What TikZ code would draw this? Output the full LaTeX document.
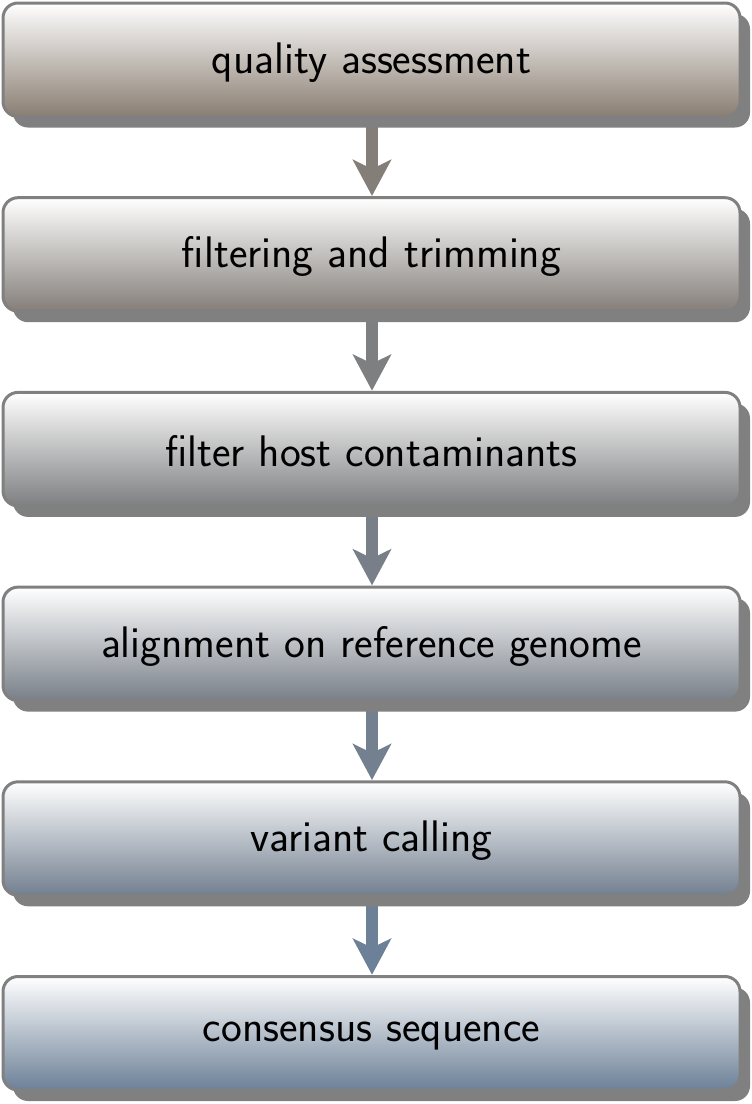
\documentclass[tikz,border=0pt]{standalone}
\usepackage{fontspec}
\usetikzlibrary{arrows.meta,shadows}
\definecolor{stageA}{RGB}{138,126,114}
\definecolor{stageB}{RGB}{108,128,151}
\definecolor{frame}{RGB}{128,128,128}
% bottom colours of the six stages, brown-grey to slate blue
\colorlet{boxcol0}{stageB!0!stageA}
\colorlet{boxcol1}{stageB!20!stageA}
\colorlet{boxcol2}{stageB!40!stageA}
\colorlet{boxcol3}{stageB!60!stageA}
\colorlet{boxcol4}{stageB!80!stageA}
\colorlet{boxcol5}{stageB!100!stageA}
% stage label, set a little below the box centre
\newcommand{\stagelabel}[1]{\raisebox{-2.5pt}[\height][\depth]{#1}}
\tikzset{
  stagebox/.style={rectangle, rounded corners=15pt, draw=frame, line width=3pt,
    minimum width=737pt, minimum height=113.5pt, top color=white, bottom color=#1,
    font=\sffamily\fontsize{44.2}{48}\selectfont, text=black,
    general shadow={fill=frame, shadow xshift=10pt, shadow yshift=-11pt}},
  flowarrow/.style={draw=#1, line width=12pt,
    -{Stealth[length=36pt, width=38pt, inset=9pt, fill=#1]}}
}
\begin{document}
\begin{tikzpicture}[x=1pt,y=1pt]
\useasboundingbox (0,0) rectangle (752,-1104);
% arrows first, so the shadows cover the shaft starts
\foreach \i in {0,...,4}{
  \pgfmathtruncatemacro{\j}{\i+1}
  \coordinate (a\i) at (372,{-(59.75+194.7*\i)-56});
  \coordinate (b\i) at (372,{-(59.75+194.7*\j)+58.5});
  \draw[flowarrow=boxcol\j] (a\i) -- (b\i);
}
\node[stagebox=boxcol0] (s0) at (371.5,-59.75) {\stagelabel{quality assessment}};
\node[stagebox=boxcol1] (s1) at (371.5,{-(59.75+194.7)}) {\stagelabel{filtering and trimming}};
\node[stagebox=boxcol2] (s2) at (371.5,{-(59.75+2*194.7)}) {\stagelabel{filter host contaminants}};
\node[stagebox=boxcol3] (s3) at (371.5,{-(59.75+3*194.7)}) {\stagelabel{alignment on reference genome}};
\node[stagebox=boxcol4] (s4) at (371.5,{-(59.75+4*194.7)}) {\stagelabel{variant calling}};
\node[stagebox=boxcol5] (s5) at (371.5,{-(59.75+5*194.7)}) {\stagelabel{consensus sequence}};
\end{tikzpicture}
\end{document}
